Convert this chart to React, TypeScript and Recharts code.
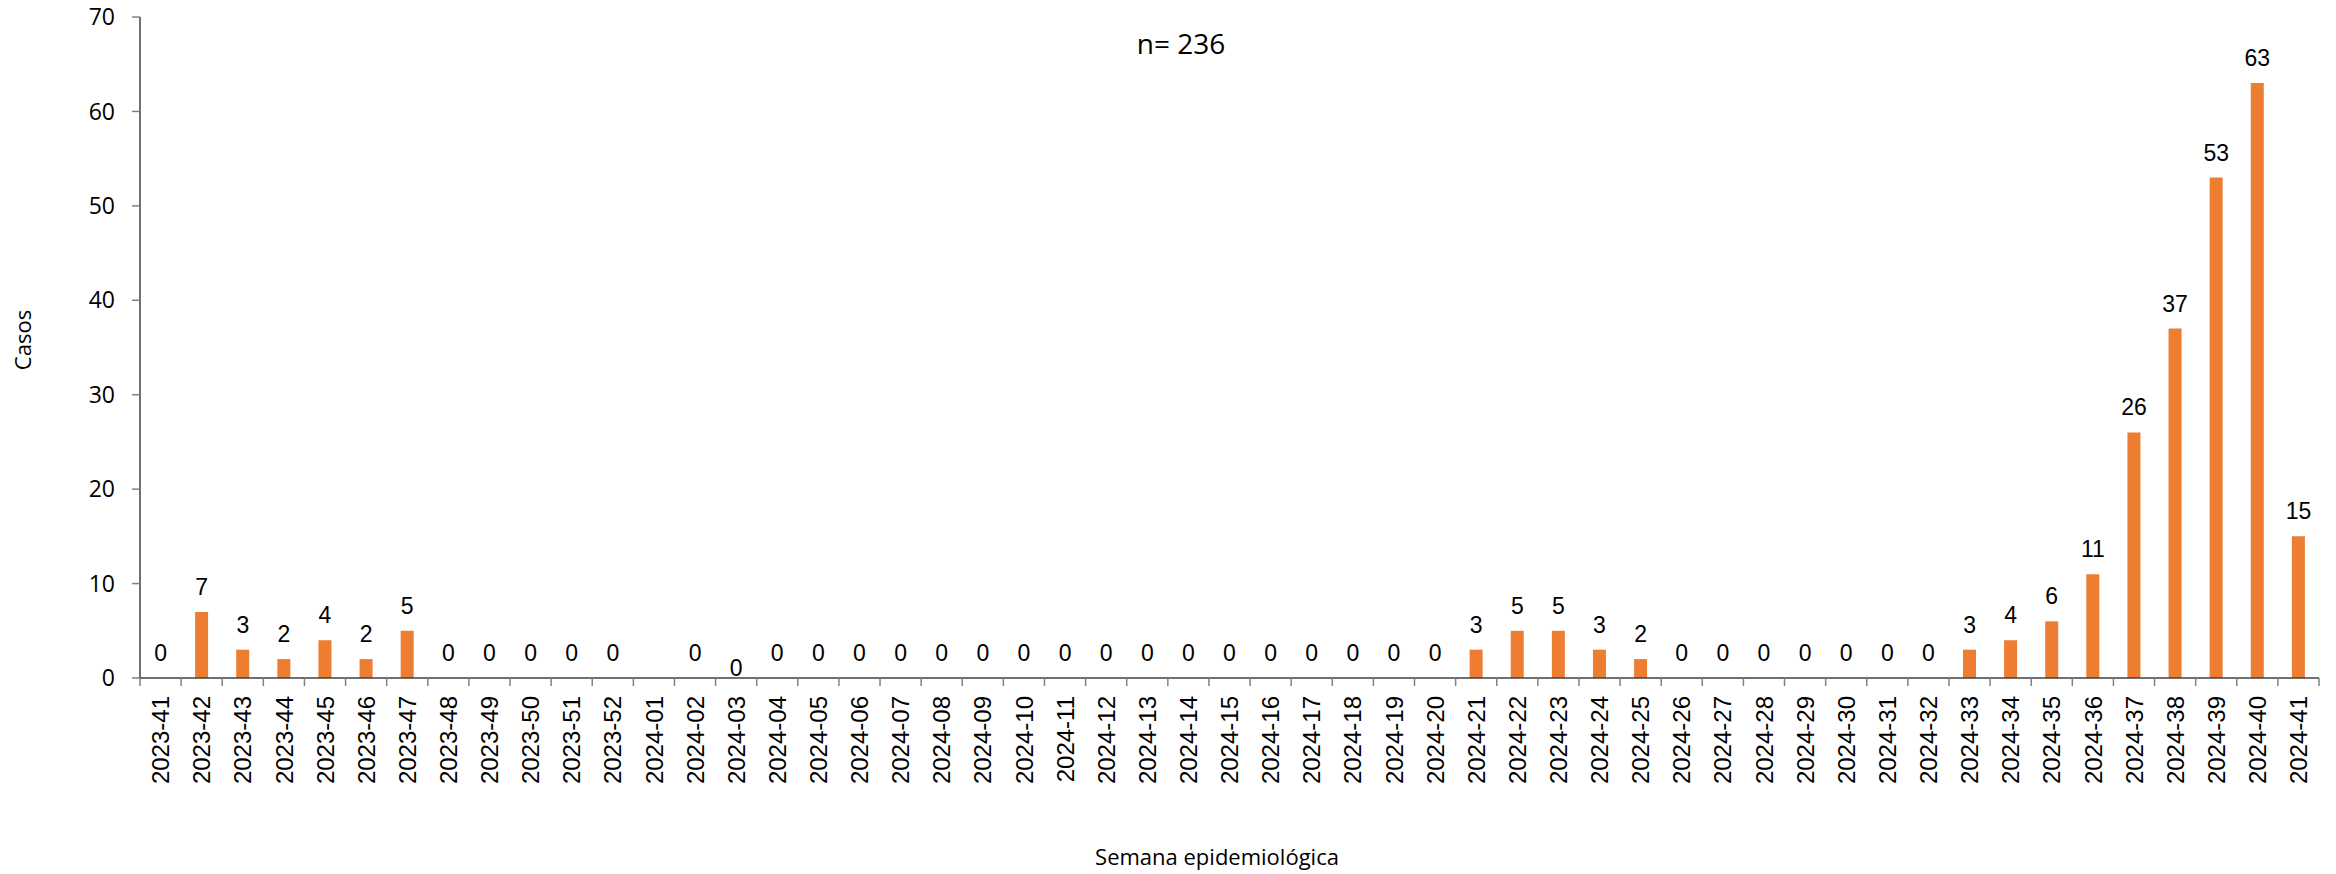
import { Bar, ComposedChart, LabelList, Line, XAxis, YAxis } from "recharts";

const WEEKS = [
  "2023-41", "2023-42", "2023-43", "2023-44", "2023-45", "2023-46", "2023-47", "2023-48",
  "2023-49", "2023-50", "2023-51", "2023-52", "2024-01", "2024-02", "2024-03", "2024-04",
  "2024-05", "2024-06", "2024-07", "2024-08", "2024-09", "2024-10", "2024-11", "2024-12",
  "2024-13", "2024-14", "2024-15", "2024-16", "2024-17", "2024-18", "2024-19", "2024-20",
  "2024-21", "2024-22", "2024-23", "2024-24", "2024-25", "2024-26", "2024-27", "2024-28",
  "2024-29", "2024-30", "2024-31", "2024-32", "2024-33", "2024-34", "2024-35", "2024-36",
  "2024-37", "2024-38", "2024-39", "2024-40", "2024-41",
];

// 2024-01 has no value in the source
const CASES: (number | null)[] = [
  0, 7, 3, 2, 4, 2, 5, 0,
  0, 0, 0, 0, null, 0, 0, 0,
  0, 0, 0, 0, 0, 0, 0, 0,
  0, 0, 0, 0, 0, 0, 0, 0,
  3, 5, 5, 3, 2, 0, 0, 0,
  0, 0, 0, 0, 3, 4, 6, 11,
  26, 37, 53, 63, 15,
];

const Y_TICKS = [0, 10, 20, 30, 40, 50, 60, 70];
const TOTAL_LABEL = "n= 236";

const W = 2336;
const H = 874;
const LEFT = 140;
const RIGHT = 17;
const TOP = 17;
const X_AXIS_H = 196;
const STEP = (W - LEFT - RIGHT) / WEEKS.length;
const BASE_Y = H - X_AXIS_H;

const ORANGE = "#ED7D31";
const AXIS = "#404040";
const ARIAL = "'Liberation Sans', Arial, sans-serif";
const SANS = "'Open Sans', sans-serif";

const data = WEEKS.map((w, i) => ({ week: w, casos: CASES[i] }));

function WeekTick(props: any) {
  const { x, payload, index } = props;
  const lx = x - STEP / 2;
  return (
    <g>
      <line x1={lx} y1={BASE_Y} x2={lx} y2={BASE_Y + 8} stroke="#808080" strokeWidth={1.5} />
      {index === WEEKS.length - 1 && (
        <line x1={x + STEP / 2} y1={BASE_Y} x2={x + STEP / 2} y2={BASE_Y + 8} stroke="#808080" strokeWidth={1.5} />
      )}
      <text
        x={x}
        y={BASE_Y + 18}
        transform={`rotate(-90, ${x}, ${BASE_Y + 18})`}
        textAnchor="end"
        dy="0.36em"
        fontFamily={ARIAL}
        fontSize={24}
        fill="#000"
      >
        {payload.value}
      </text>
    </g>
  );
}

// labels hang off an invisible line so zero values get one too
function ValueLabel(props: any) {
  const { x, y, value, index } = props;
  if (value === null || value === undefined || y === null || y === undefined) return null;
  // the 0 of 2024-03 sits lower in the original
  const shift = WEEKS[index] === "2024-03" ? 15 : 0;
  return (
    <text x={x} y={y - 17 + shift} textAnchor="middle" fontFamily={ARIAL} fontSize={23} fill="#000">
      {value}
    </text>
  );
}

function CasosLabel() {
  const cx = 23;
  const cy = 340;
  return (
    <text
      x={cx}
      y={cy}
      transform={`rotate(-90, ${cx}, ${cy})`}
      textAnchor="middle"
      dy="0.35em"
      fontFamily={SANS}
      fontSize={22}
      fill="#000"
    >
      Casos
    </text>
  );
}

function SemanaLabel() {
  return (
    <text x={1217} y={857} textAnchor="middle" dy="0.35em" fontFamily={SANS} fontSize={22} fill="#000">
      Semana epidemiológica
    </text>
  );
}

export default function App() {
  return (
    <div style={{ position: "absolute", left: 0, top: 0, width: W, height: H, background: "#fff" }}>
      <ComposedChart
        width={W}
        height={H}
        data={data}
        margin={{ top: TOP, right: RIGHT, bottom: 0, left: 0 }}
        barSize={13}
      >
        <XAxis
          dataKey="week"
          interval={0}
          height={X_AXIS_H}
          tickLine={false}
          axisLine={{ stroke: AXIS, strokeWidth: 1.5 }}
          tick={<WeekTick />}
          label={<SemanaLabel />}
        />
        <YAxis
          width={LEFT}
          domain={[0, 70]}
          ticks={Y_TICKS}
          interval={0}
          tickSize={8}
          tickMargin={17}
          tickLine={{ stroke: "#808080", strokeWidth: 1.5 }}
          axisLine={{ stroke: AXIS, strokeWidth: 1.5 }}
          tick={{ fontFamily: SANS, fontSize: 23, fill: "#000" }}
          label={<CasosLabel />}
        />
        <Bar dataKey="casos" fill={ORANGE} isAnimationActive={false} />
        <Line
          dataKey="casos"
          stroke="none"
          dot={false}
          activeDot={false}
          legendType="none"
          isAnimationActive={false}
        >
          <LabelList dataKey="casos" content={<ValueLabel />} />
        </Line>
      </ComposedChart>
      <div
        style={{
          position: "absolute",
          left: 0,
          width: 2362,
          top: 25,
          textAlign: "center",
          fontFamily: SANS,
          fontSize: 28,
          lineHeight: "36px",
          color: "#000",
        }}
      >
        {TOTAL_LABEL}
      </div>
    </div>
  );
}
